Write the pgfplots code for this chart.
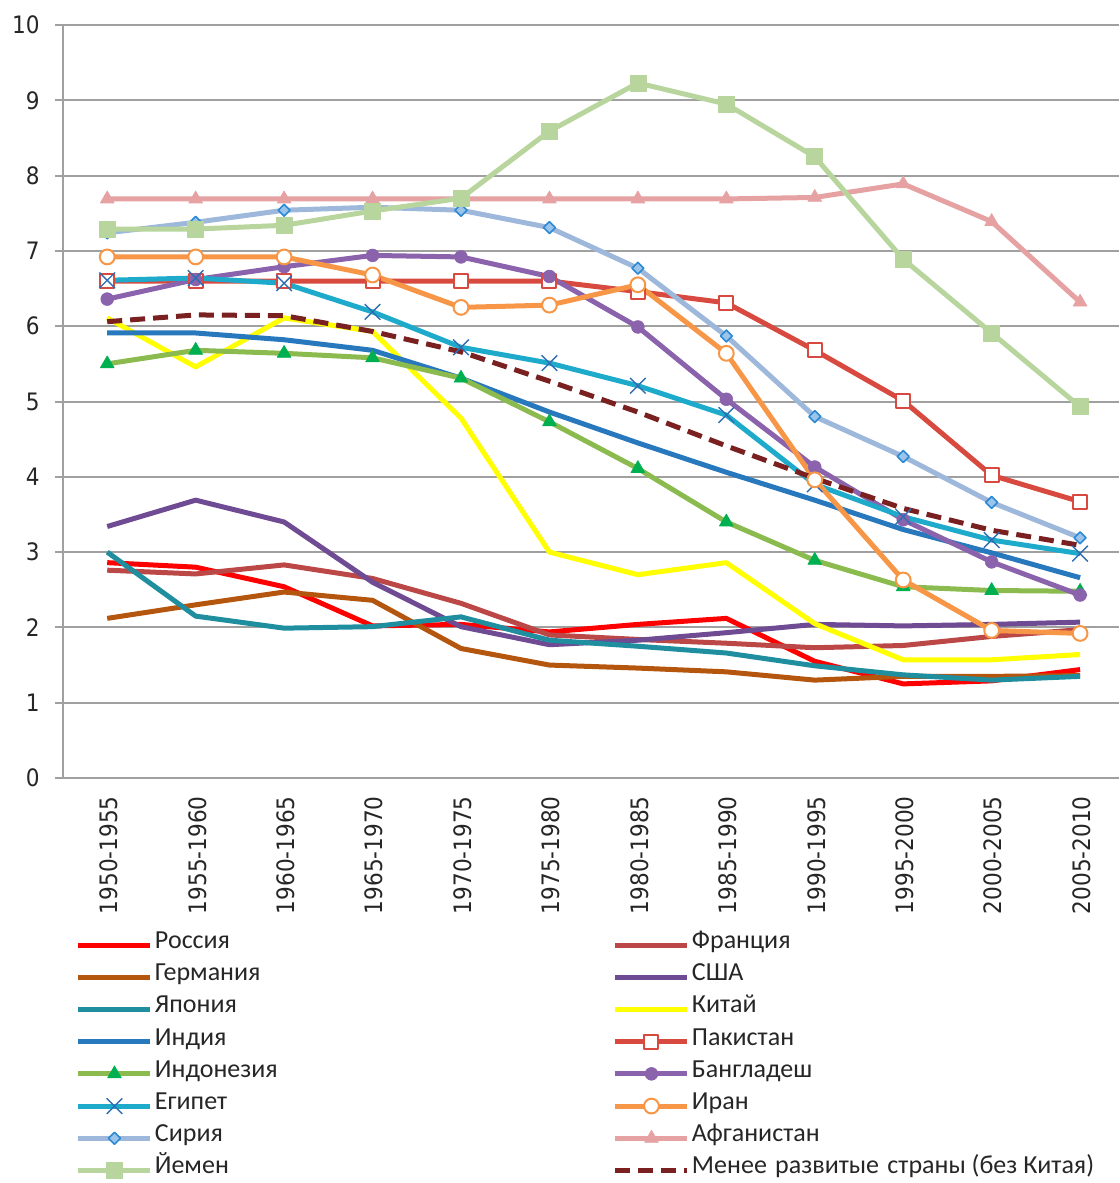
\documentclass[border=0pt]{standalone}
\usepackage{pgfplots}
\pgfplotsset{compat=1.18}
\usepackage{pgfplotstable}
\usepackage{fontspec}
\setmainfont{Carlito}
\newfontfamily\tickfont{DejaVu Sans Condensed}

\definecolor{cRus}{HTML}{FF0000}
\definecolor{cFra}{HTML}{BB4747}
\definecolor{cGer}{HTML}{B5560F}
\definecolor{cUsa}{HTML}{6E4B92}
\definecolor{cJap}{HTML}{1F8E9E}
\definecolor{cChi}{HTML}{FFFF00}
\definecolor{cInd}{HTML}{2878BE}
\definecolor{cPak}{HTML}{D8493F}
\definecolor{cIdo}{HTML}{8BBB4F}
\definecolor{cIdoM}{HTML}{00B050}
\definecolor{cBan}{HTML}{8B62AC}
\definecolor{cEgy}{HTML}{1DAACB}
\definecolor{cEgyM}{HTML}{2F6EB2}
\definecolor{cIra}{HTML}{F79646}
\definecolor{cSyr}{HTML}{9DB8DB}
\definecolor{cSyrM}{HTML}{2A8AD6}
\definecolor{cSyrF}{HTML}{9CC4EA}
\definecolor{cAfg}{HTML}{E6A2A2}
\definecolor{cYem}{HTML}{B8D59E}
\definecolor{cLdc}{HTML}{7A2020}
\definecolor{cGrid}{HTML}{A0A0A0}

\pgfplotstableread{
x Rus Fra Ger Usa Jap Chi Ind Pak Ido Ban Egy Ira Syr Afg Yem Ldc
0  2.86 2.76 2.12 3.34 3.00 6.11 5.91 6.60 5.50 6.36 6.61 6.92 7.24 7.69 7.29 6.06
1  2.80 2.71 2.30 3.69 2.15 5.46 5.91 6.60 5.68 6.62 6.64 6.92 7.38 7.69 7.29 6.15
2  2.54 2.83 2.47 3.40 1.99 6.11 5.82 6.60 5.64 6.79 6.57 6.92 7.54 7.69 7.34 6.14
3  2.02 2.65 2.36 2.60 2.01 5.93 5.68 6.60 5.58 6.94 6.19 6.68 7.58 7.69 7.53 5.93
4  2.04 2.32 1.72 2.01 2.14 4.78 5.31 6.60 5.31 6.92 5.72 6.25 7.54 7.69 7.70 5.66
5  1.94 1.90 1.50 1.77 1.83 3.00 4.86 6.60 4.73 6.66 5.51 6.28 7.31 7.69 8.59 5.27
6  2.04 1.84 1.46 1.83 1.75 2.70 4.45 6.46 4.11 5.99 5.21 6.55 6.77 7.69 9.23 4.86
7  2.12 1.79 1.41 1.93 1.66 2.86 4.06 6.31 3.40 5.03 4.82 5.64 5.87 7.69 8.95 4.41
8  1.55 1.73 1.30 2.04 1.49 2.05 3.69 5.68 2.89 4.13 3.90 3.96 4.80 7.71 8.25 3.98
9  1.25 1.76 1.35 2.02 1.37 1.57 3.30 5.01 2.54 3.43 3.47 2.63 4.27 7.89 6.89 3.58
10 1.29 1.88 1.35 2.04 1.30 1.57 2.99 4.02 2.49 2.87 3.16 1.96 3.66 7.39 5.91 3.29
11 1.44 1.97 1.36 2.07 1.35 1.64 2.66 3.67 2.48 2.43 2.98 1.92 3.19 6.32 4.93 3.09
}\data

\newcommand\lc[1]{\makebox[229pt][l]{#1}}

\begin{document}
\begin{tikzpicture}
\path[use as bounding box] (0pt,0pt) rectangle (559.5pt,-591.5pt);
\begin{axis}[
  at={(31.5pt,-389pt)}, anchor=south west,
  scale only axis, width=528pt, height=376.5pt,
  xmin=-0.5, xmax=11.44, ymin=0, ymax=10,
  separate axis lines,
  axis x line*=bottom, axis y line*=left,
  x axis line style={-, draw=cGrid, line width=1pt},
  y axis line style={-, draw=cGrid, line width=1pt},
  ytick={0,1,...,10},
  yticklabels={0,1,2,3,4,5,6,7,8,9,10},
  ymajorgrids, grid style={draw=cGrid, line width=1pt},
  xtick={0,1,...,11},
  xticklabels={1950-1955,1955-1960,1960-1965,1965-1970,1970-1975,1975-1980,1980-1985,1985-1990,1990-1995,1995-2000,2000-2005,2005-2010},
  x tick style={draw=none},
  extra x ticks={-0.5,0.5,1.5,2.5,3.5,4.5,5.5,6.5,7.5,8.5,9.5,10.5},
  extra x tick labels={},
  extra x tick style={grid=none, tick style={draw=cGrid, line width=1pt}, major tick length=4.5pt, tick align=outside},
  y tick style={draw=cGrid, line width=1pt},
  tick align=outside, major tick length=4pt,
  ticklabel style={font=\tickfont\fontsize{12}{14}\selectfont, text=black!85},
  xticklabel style={xshift=0.8pt, yshift=-5pt, rotate=90, anchor=east, inner sep=0pt},
  yticklabel style={anchor=east, inner sep=0pt, xshift=-7.5pt},
  legend columns=2,
  legend style={at={(axis description cs:0.0123,-0.2079)}, anchor=north west,
    draw=none, fill=none, inner sep=0pt, outer sep=0pt, row sep=5.6pt, column sep=0pt,
    nodes={inner sep=0pt, text height=7pt, text depth=3.5pt, anchor=west,
      font=\fontsize{13}{15}\selectfont, text=black!85},
    /tikz/every odd column/.append style={column sep=1pt}},
  legend image code/.code={\draw[mark repeat=2,mark phase=2,#1] plot coordinates {(0pt,0pt) (18pt,0pt) (36pt,0pt)};},
  every axis plot/.append style={line width=2.5pt, line join=round},
]
\addplot[cRus, mark=none] table[x=x,y=Rus]{\data};
\addlegendentry{\lc{Россия}}
\addplot[cFra, mark=none] table[x=x,y=Fra]{\data};
\addlegendentry{Франция}
\addplot[cGer, mark=none] table[x=x,y=Ger]{\data};
\addlegendentry{\lc{Германия}}
\addplot[cUsa, mark=none] table[x=x,y=Usa]{\data};
\addlegendentry{США}
\addplot[cJap, mark=none] table[x=x,y=Jap]{\data};
\addlegendentry{\lc{Япония}}
\addplot[cChi, mark=none] table[x=x,y=Chi]{\data};
\addlegendentry{Китай}
\addplot[cInd, mark=none] table[x=x,y=Ind]{\data};
\addlegendentry{\lc{Индия}}
\addplot[cPak, mark=square*, mark size=3.5pt, mark options={solid, fill=white, draw=cPak, line width=1pt}] table[x=x,y=Pak]{\data};
\addlegendentry{Пакистан}
\addplot[cIdo, mark=triangle*, mark size=4pt, mark options={solid, fill=cIdoM, draw=cIdoM, line width=0.3pt}] table[x=x,y=Ido]{\data};
\addlegendentry{\lc{Индонезия}}
\addplot[cBan, mark=*, mark size=3.2pt, mark options={solid, fill=cBan, draw=cBan, line width=0.3pt}] table[x=x,y=Ban]{\data};
\addlegendentry{Бангладеш}
\addplot[cEgy, mark=x, mark size=5.5pt, mark options={solid, draw=cEgyM, line width=0.7pt}] table[x=x,y=Egy]{\data};
\addlegendentry{\lc{Египет}}
\addplot[cIra, mark=*, mark size=3.7pt, mark options={solid, fill=white, draw=cIra, line width=1pt}] table[x=x,y=Ira]{\data};
\addlegendentry{Иран}
\addplot[cSyr, mark=square*, mark size=2.1pt, mark options={solid, rotate=45, fill=cSyrF, draw=cSyrM, line width=0.8pt}] table[x=x,y=Syr]{\data};
\addlegendentry{\lc{Сирия}}
\addplot[cAfg, mark=triangle*, mark size=4pt, mark options={solid, fill=cAfg, draw=cAfg, line width=0.3pt}] table[x=x,y=Afg]{\data};
\addlegendentry{Афганистан}
\addplot[cYem, mark=square*, mark size=4pt, mark options={solid, fill=cYem, draw=cYem, line width=0.3pt}] table[x=x,y=Yem]{\data};
\addlegendentry{\lc{Йемен}}
\addplot[cLdc, mark=none, dash pattern=on 7.5pt off 4pt] table[x=x,y=Ldc]{\data};
\addlegendentry{Менее\ \kern1.2pt развитые\ \kern1.2pt страны (без Китая)}
\end{axis}
\end{tikzpicture}
\end{document}
